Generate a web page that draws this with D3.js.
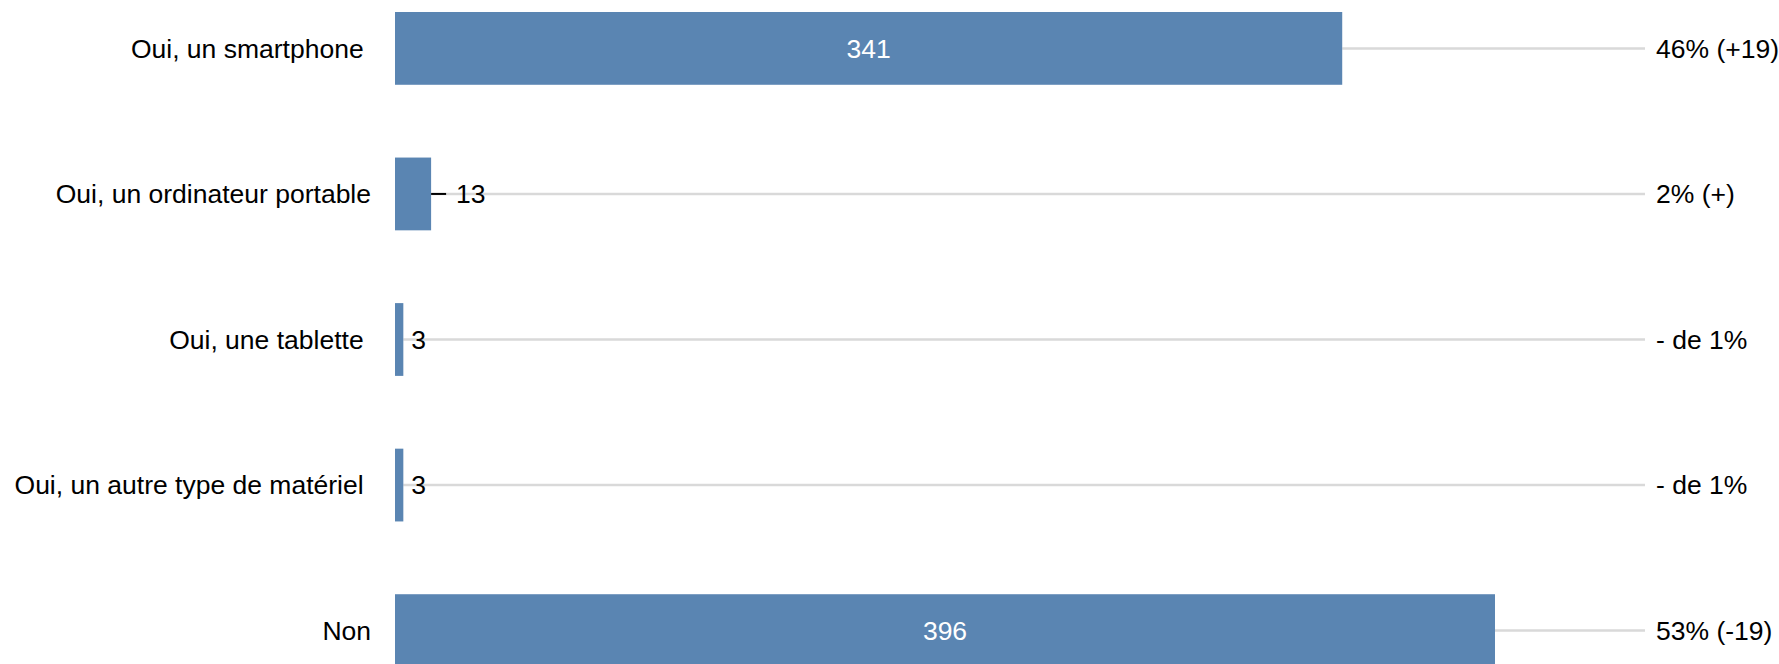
<!DOCTYPE html>
<html>
<head>
<meta charset="utf-8">
<style>
  body { margin: 0; background: #fff; }
  svg text { font-family: "Liberation Sans", Arial, sans-serif; font-size: 26.5px; white-space: pre; }
</style>
</head>
<body>
<div id="chart"></div>
<script src="https://d3js.org/d3.v7.min.js"></script>
<script>

// data
var categories = ["Oui, un smartphone ", "Oui, un ordinateur portable", "Oui, une tablette ", "Oui, un autre type de matériel ", "Non"];
var counts = [341, 13, 3, 3, 396];
var shares = ["46% (+19)", "2% (+)", "- de 1%", "- de 1%", "53% (-19)"];

var width = 1779, height = 664;

var data = categories.map((c, i) => ({ cat: c, n: counts[i], share: shares[i] }));

var svg = d3.select("#chart")
  .append("svg")
    .attr("width", width)
    .attr("height", height);

var x = d3.scaleLinear()
  .domain([0, 396])
  .range([395, 1495]);

var y = d3.scaleBand()
  .domain(categories)
  .range([12, 667])
  .paddingInner(0.5)
  .paddingOuter(0);

var lineEnd = 1645;

// grey guide lines from end of bar to the share label
svg.selectAll("line.guide")
  .data(data)
  .enter()
  .append("line")
    .attr("class", "guide")
    .attr("x1", d => x(d.n))
    .attr("x2", lineEnd)
    .attr("y1", d => y(d.cat) + y.bandwidth() / 2)
    .attr("y2", d => y(d.cat) + y.bandwidth() / 2)
    .attr("stroke", "#d9d9d9")
    .attr("stroke-width", 2.5);

// bars
svg.selectAll("rect.bar")
  .data(data)
  .enter()
  .append("rect")
    .attr("class", "bar")
    .attr("x", x(0))
    .attr("y", d => y(d.cat))
    .attr("width", d => x(d.n) - x(0))
    .attr("height", y.bandwidth())
    .attr("fill", "#5a85b2");

// category labels on the left
svg.selectAll("text.cat")
  .data(data)
  .enter()
  .append("text")
    .attr("class", "cat")
    .attr("x", 371)
    .attr("y", d => y(d.cat) + y.bandwidth() / 2)
    .attr("dy", "0.35em")
    .attr("text-anchor", "end")
    .attr("fill", "#000")
    .text(d => d.cat);

// value labels: inside wide bars, outside small ones
var inside = d => x(d.n) - x(0) > 100;

svg.selectAll("line.tick")
  .data(data.filter(d => !inside(d) && d.n >= 10))
  .enter()
  .append("line")
    .attr("class", "tick")
    .attr("x1", d => x(d.n))
    .attr("x2", d => x(d.n) + 15)
    .attr("y1", d => y(d.cat) + y.bandwidth() / 2)
    .attr("y2", d => y(d.cat) + y.bandwidth() / 2)
    .attr("stroke", "#000")
    .attr("stroke-width", 2);

svg.selectAll("text.val")
  .data(data)
  .enter()
  .append("text")
    .attr("class", "val")
    .attr("x", d => inside(d) ? (x(0) + x(d.n)) / 2 : x(d.n) + (d.n >= 10 ? 25 : 8))
    .attr("y", d => y(d.cat) + y.bandwidth() / 2)
    .attr("dy", "0.35em")
    .attr("text-anchor", d => inside(d) ? "middle" : "start")
    .attr("fill", d => inside(d) ? "#fff" : "#000")
    .text(d => d.n);

// share labels on the right
svg.selectAll("text.share")
  .data(data)
  .enter()
  .append("text")
    .attr("class", "share")
    .attr("x", 1656)
    .attr("y", d => y(d.cat) + y.bandwidth() / 2)
    .attr("dy", "0.35em")
    .attr("fill", "#000")
    .text(d => d.share);

</script>
</body>
</html>
